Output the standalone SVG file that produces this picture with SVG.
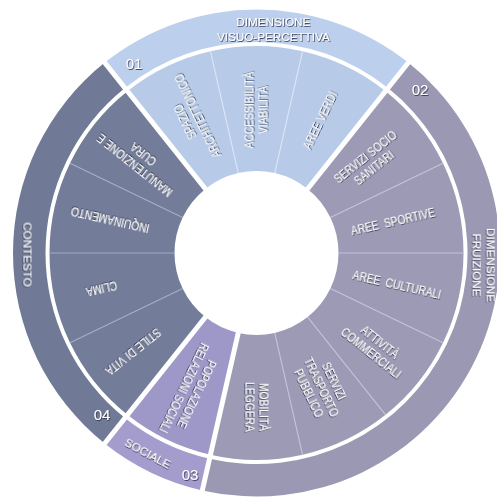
<svg xmlns="http://www.w3.org/2000/svg" width="497" height="501" viewBox="0 0 497 501">
<defs>
<filter id="sh" x="-20%" y="-20%" width="140%" height="140%">
<feDropShadow dx="0.7" dy="0.9" stdDeviation="0.5" flood-color="#2a2f44" flood-opacity="0.9"/>
</filter>
<style>
.d1{fill:#b7cbe9}.d1o{fill:#bccfed}
.d2{fill:#9c9ab5}.d2o{fill:#9a98b3}
.d3{fill:#9e98c9}.d3o{fill:#a39ccc}
.d4{fill:#737d99}.d4o{fill:#707a96}
text{font-family:"Liberation Sans",Arial,sans-serif;fill:#ffffff;filter:url(#sh)}
.lbl{font-size:12px;text-anchor:middle}
.big{font-size:11.7px;text-anchor:middle}
.num{font-size:15px;text-anchor:middle}
.sep{stroke:#ffffff;stroke-width:5;fill:none}
.v1{stroke:#dbe5f5;stroke-width:1.1}
.v2{stroke:#c3c2d8;stroke-width:1.1}
.v4{stroke:#a4acc4;stroke-width:1.1}
</style>
</defs>
<rect width="497" height="501" fill="#ffffff"/>

<g id="band-01">
<path class="d1o" d="M104.680,62.624 A243.5,243.5 0 0 1 408.320,62.624 L388.056,88.034 A211,211 0 0 0 124.944,88.034 Z"/>
<text class="big" x="273.3" y="26">DIMENSIONE</text>
<text class="big" x="273.3" y="41">VISUO-PERCETTIVA</text>
<text class="num" x="134" y="69">01</text>
</g>
<g id="band-02">
<path class="d2o" d="M408.320,62.624 A243.5,243.5 0 0 1 202.316,490.395 L209.548,458.710 A211,211 0 0 0 388.056,88.034 Z"/>
<text class="num" x="420" y="95">02</text>
<g transform="translate(486.7 265) rotate(90)">
<text class="big" x="0" y="0">DIMENSIONE</text>
<text class="big" x="0" y="13.5">FRUIZIONE</text>
</g>
</g>
<g id="band-03">
<path class="d3o" d="M202.316,490.395 A243.5,243.5 0 0 1 104.680,443.376 L124.944,417.966 A211,211 0 0 0 209.548,458.710 Z"/>
<text class="big" transform="translate(256.5 253) rotate(28.5)" x="0" y="232">SOCIALE</text>
<text class="num" x="190" y="480">03</text>
</g>
<g id="band-04">
<path class="d4o" d="M104.680,443.376 A243.5,243.5 0 0 1 104.680,62.624 L124.944,88.034 A211,211 0 0 0 124.944,417.966 Z"/>
<text class="big" transform="translate(23.5 254.5) rotate(90)" x="0" y="0">CONTESTO</text>
<text class="num" x="102" y="420">04</text>
</g>

<g id="s-spazio">
<path class="d1" d="M127.438,91.161 A207,207 0 0 1 210.438,51.189 L238.253,173.056 A82,82 0 0 0 205.374,188.890 Z"/>
<g transform="translate(256.5 253) rotate(-115.714)"><text class="lbl" transform="scale(0.86 1)"><tspan x="173.26" y="-2.8">SPAZIO</tspan><tspan x="173.26" y="11.2">ARCHITETTONICO</tspan></text></g>
</g>
<g id="s-accessibilita">
<path class="d1" d="M210.438,51.189 A207,207 0 0 1 302.562,51.189 L274.747,173.056 A82,82 0 0 0 238.253,173.056 Z"/>
<g transform="translate(256.5 253) rotate(-90)"><text class="lbl" transform="scale(0.86 1)"><tspan x="166.28" y="-2.8">ACCESSIBILITÀ</tspan><tspan x="166.28" y="11.2">VIABILITÀ</tspan></text></g>
</g>
<g id="s-aree-verdi">
<path class="d1" d="M302.562,51.189 A207,207 0 0 1 385.562,91.161 L307.626,188.890 A82,82 0 0 0 274.747,173.056 Z"/>
<g transform="translate(256.5 253) rotate(-64.286)"><text class="lbl" transform="scale(0.86 1)"><tspan x="170.93" y="4.3">AREE VERDI</tspan></text></g>
</g>
<g id="s-servizi-socio">
<path class="d2" d="M385.562,91.161 A207,207 0 0 1 443.001,163.187 L330.380,217.422 A82,82 0 0 0 307.626,188.890 Z"/>
<g transform="translate(256.5 253) rotate(-38.571)"><text class="lbl" transform="scale(0.86 1)"><tspan x="168.6" y="-2.8">SERVIZI SOCIO</tspan><tspan x="168.6" y="11.2">SANITARI</tspan></text></g>
</g>
<g id="s-aree-sportive">
<path class="d2" d="M443.001,163.187 A207,207 0 0 1 463.5,253 L338.5,253 A82,82 0 0 0 330.380,217.422 Z"/>
<g transform="translate(256.5 253) rotate(-12.857)"><text class="lbl" transform="scale(0.86 1)"><tspan x="162.79" y="4.3">AREE&#160; SPORTIVE</tspan></text></g>
</g>
<g id="s-aree-culturali">
<path class="d2" d="M463.5,253 A207,207 0 0 1 443.001,342.813 L330.380,288.578 A82,82 0 0 0 338.5,253 Z"/>
<g transform="translate(256.5 253) rotate(12.857)"><text class="lbl" transform="scale(0.86 1)"><tspan x="167.44" y="4.3">AREE&#160; CULTURALI</tspan></text></g>
</g>
<g id="s-attivita">
<path class="d2" d="M443.001,342.813 A207,207 0 0 1 385.562,414.839 L307.626,317.110 A82,82 0 0 0 330.380,288.578 Z"/>
<g transform="translate(256.5 253) rotate(38.571)"><text class="lbl" transform="scale(0.86 1)"><tspan x="176.74" y="-2.8">ATTIVITÀ</tspan><tspan x="176.74" y="11.2">COMMERCIALI</tspan></text></g>
</g>
<g id="s-trasporto">
<path class="d2" d="M385.562,414.839 A207,207 0 0 1 302.562,454.811 L274.747,332.944 A82,82 0 0 0 307.626,317.110 Z"/>
<g transform="translate(256.5 253) rotate(64.286)"><text class="lbl" transform="scale(0.86 1)"><tspan x="173.26" y="-9.7">SERVIZI</tspan><tspan x="173.26" y="4.3">TRASPORTO</tspan><tspan x="173.26" y="18.3">PUBBLICO</tspan></text></g>
</g>
<g id="s-mobilita">
<path class="d2" d="M302.562,454.811 A207,207 0 0 1 210.438,454.811 L238.253,332.944 A82,82 0 0 0 274.747,332.944 Z"/>
<g transform="translate(256.5 253) rotate(90)"><text class="lbl" transform="scale(0.86 1)"><tspan x="179.07" y="-2.8">MOBILITÀ</tspan><tspan x="179.07" y="11.2">LEGGERA</tspan></text></g>
</g>
<g id="s-popolazione">
<path class="d3" d="M210.438,454.811 A207,207 0 0 1 127.438,414.839 L205.374,317.110 A82,82 0 0 0 238.253,332.944 Z"/>
<g transform="translate(256.5 253) rotate(115.714)"><text class="lbl" transform="scale(0.86 1)"><tspan x="177.91" y="-2.8">POPOLAZIONE</tspan><tspan x="177.91" y="11.2">RELAZIONI SOCIALI</tspan></text></g>
</g>
<g id="s-stile">
<path class="d4" d="M127.438,414.839 A207,207 0 0 1 69.999,342.813 L182.620,288.578 A82,82 0 0 0 205.374,317.110 Z"/>
<g transform="translate(256.5 253) rotate(141.429)"><text class="lbl" transform="scale(0.86 1)"><tspan x="183.72" y="4.3">STILE DI VITA</tspan></text></g>
</g>
<g id="s-clima">
<path class="d4" d="M69.999,342.813 A207,207 0 0 1 49.5,253 L174.5,253 A82,82 0 0 0 182.620,288.578 Z"/>
<g transform="translate(256.5 253) rotate(167.143)"><text class="lbl" transform="scale(0.86 1)"><tspan x="184.88" y="4.3">CLIMA</tspan></text></g>
</g>
<g id="s-inquinamento">
<path class="d4" d="M49.5,253 A207,207 0 0 1 69.999,163.187 L182.620,217.422 A82,82 0 0 0 174.5,253 Z"/>
<g transform="translate(256.5 253) rotate(192.857)"><text class="lbl" transform="scale(0.86 1)"><tspan x="174.42" y="4.3">INQUINAMENTO</tspan></text></g>
</g>
<g id="s-manutenzione">
<path class="d4" d="M69.999,163.187 A207,207 0 0 1 127.438,91.161 L205.374,188.890 A82,82 0 0 0 182.620,217.422 Z"/>
<g transform="translate(256.5 253) rotate(218.571)"><text class="lbl" transform="scale(0.86 1)"><tspan x="174.42" y="-2.8">MANUTENZIONE E</tspan><tspan x="174.42" y="11.2">CURA</tspan></text></g>
</g>

<g id="dividers">
<line class="v1" x1="238.253" y1="173.056" x2="210.438" y2="51.189"/>
<line class="v1" x1="274.747" y1="173.056" x2="302.562" y2="51.189"/>
<line class="v2" x1="330.380" y1="217.422" x2="443.001" y2="163.187"/>
<line class="v2" x1="338.5" y1="253" x2="463.5" y2="253"/>
<line class="v2" x1="330.380" y1="288.578" x2="443.001" y2="342.813"/>
<line class="v2" x1="307.626" y1="317.110" x2="385.562" y2="414.839"/>
<line class="v2" x1="274.747" y1="332.944" x2="302.562" y2="454.811"/>
<line class="v4" x1="182.620" y1="288.578" x2="69.999" y2="342.813"/>
<line class="v4" x1="174.5" y1="253" x2="49.5" y2="253"/>
<line class="v4" x1="182.620" y1="217.422" x2="69.999" y2="163.187"/>
</g>
<g id="separators">
<line class="sep" x1="207.868" y1="192.017" x2="100.627" y2="57.542"/>
<line class="sep" x1="305.132" y1="192.017" x2="412.373" y2="57.542"/>
<line class="sep" x1="239.143" y1="329.045" x2="200.870" y2="496.733"/>
<line class="sep" x1="207.868" y1="313.983" x2="100.627" y2="448.458"/>
</g>
</svg>
